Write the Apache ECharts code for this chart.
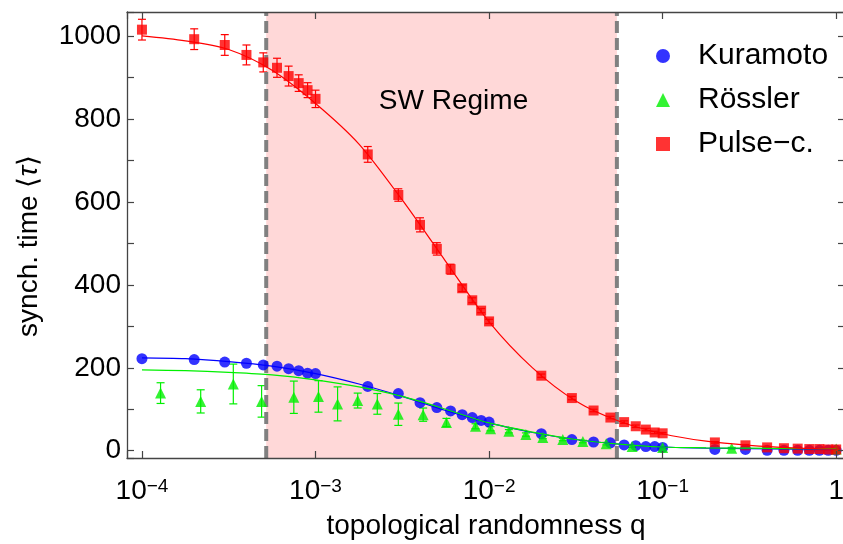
<!DOCTYPE html>
<html>
<head>
<meta charset="utf-8">
<script src="https://cdn.jsdelivr.net/npm/echarts@6/dist/echarts.min.js"></script>
<style>
html,body{margin:0;padding:0;background:#fff}
#chart{width:843px;height:544px}
</style>
</head>
<body>
<div id="chart"></div>
<script>
var FONT = "'Liberation Sans', Arial, sans-serif";

// q grid shared by Kuramoto and pulse-coupled runs
var gridQ = [1e-4,2e-4,3e-4,4e-4,5e-4,6e-4,7e-4,8e-4,9e-4,
             1e-3,2e-3,3e-3,4e-3,5e-3,6e-3,7e-3,8e-3,9e-3,
             1e-2,2e-2,3e-2,4e-2,5e-2,6e-2,7e-2,8e-2,9e-2,
             0.1,0.2,0.3,0.4,0.5,0.6,0.7,0.8,0.9,1];
var kuramotoT = [222,220,214,211,207,204,198,193,187,
                 186,155,138,116,104,96,87,80,73,
                 69,41,27,21,19,14,12,10,10,
                 8,3,3,1,1,1,1,1,1,1];
var pulseT = [1016,993,979,955,937,924,904,887,870,
              849,715,617,545,487,438,392,363,338,
              312,181,127,97,80,69,59,51,44,
              42,20,13,8,6,5,4,4,3,3];
var pulseErr = [25,25,25,24,23,23,24,20,18,
                21,19,15,17,15,12,8,6,5,
                5,4,4,3,3,3,3,3,3,
                2,2,2,2,2,2,2,2,2,2];

// Rössler runs sit on their own q values
var rosslerQ = [1.28e-4,2.18e-4,3.36e-4,4.89e-4,7.5e-4,1.04e-3,1.34e-3,1.75e-3,2.27e-3,3.0e-3,
                4.17e-3,5.68e-3,8.35e-3,1.02e-2,1.3e-2,1.63e-2,2.04e-2,2.66e-2,3.47e-2,4.73e-2,
                6.67e-2,0.1,0.25,1];
var rosslerT = [139,119,161,119,129,131,113,121,113,88,
                87,68,59,53,47,39,32,27,22,17,
                10,8,6,4];
var rosslerErr = [25,28,48,38,39,38,41,18,25,27,
                  16,10,6,5,4,4,3,3,3,3,
                  2,2,2,2];

// fitted curves (quarter-decade steps)
var fitQ = [1e-4,1.78e-4,3.16e-4,5.62e-4,1e-3,1.78e-3,3.16e-3,5.62e-3,
            1e-2,1.78e-2,3.16e-2,5.62e-2,0.1,0.178,0.316,0.562,1];
var kuramotoFit = [224,222,215,204,186,161,131,97,67,44,27,16,9,6,5,4,4];
var rosslerFit = [195,193,189,183,171,154,131,100,67,45,27,16,9,7,6,5,5];
var pulseFit = [1001,989,968,918,838,740,605,457,311,200,120,71,41,23,13,7,4];

// small-world regime borders
var swRegime = [5.2e-4, 5.45e-2];

var xMin = 8.2e-5, xMax = 1.124;
var yMin = -17.6, yMax = 1058.6;

function pairs(xs, ys) {
  return xs.map(function (x, i) { return [x, ys[i]]; });
}
function bars(xs, ys, es) {
  return xs.map(function (x, i) { return [x, ys[i] - es[i], ys[i] + es[i]]; });
}
function errorBars(color) {
  return function (params, api) {
    var x = api.value(0);
    var top = api.coord([x, api.value(2)]);
    var bot = api.coord([x, api.value(1)]);
    var w = 4;
    var st = { stroke: color, lineWidth: 1.2, fill: null };
    return {
      type: 'group',
      children: [
        { type: 'line', shape: { x1: top[0], y1: top[1], x2: bot[0], y2: bot[1] }, style: st },
        { type: 'line', shape: { x1: top[0] - w, y1: top[1], x2: top[0] + w, y2: top[1] }, style: st },
        { type: 'line', shape: { x1: bot[0] - w, y1: bot[1], x2: bot[0] + w, y2: bot[1] }, style: st }
      ]
    };
  };
}
function border(q) {
  return {
    type: 'line', z: 2, silent: true, showSymbol: false,
    lineStyle: { color: '#808080', width: 4, type: [12, 5] },
    data: [[q, yMin], [q, yMax]]
  };
}

var frameLine = { show: true, onZero: false, lineStyle: { color: '#444', width: 1.3 } };
var tickIn = { show: true, inside: true, length: 7, lineStyle: { color: '#444', width: 1.2 } };

var chart = echarts.init(document.getElementById('chart'));
var option = {
  animation: false,
  textStyle: { fontFamily: FONT },
  grid: { left: 127, top: 12, right: -2, bottom: 86, containLabel: false, outerBoundsMode: 'none' },
  legend: {
    orient: 'vertical',
    left: 651,
    top: 36,
    itemWidth: 14,
    itemHeight: 14,
    itemGap: 14,
    textStyle: { fontFamily: FONT, fontSize: 30, color: '#000', padding: [0, 0, 0, 23] },
    data: [
      { name: 'Kuramoto', icon: 'circle' },
      { name: 'Rössler', icon: 'triangle' },
      { name: 'Pulse\u2212c.', icon: 'rect' }
    ]
  },
  xAxis: [{
    type: 'log',
    min: xMin,
    max: xMax,
    z: 5,
    axisLine: frameLine,
    axisTick: tickIn,
    splitLine: { show: false },
    minorTick: { show: false },
    name: 'topological randomness q',
    nameLocation: 'middle',
    nameGap: 54,
    nameTextStyle: { fontFamily: FONT, fontSize: 28, color: '#000' },
    axisLabel: {
      margin: 19,
      color: '#000',
      formatter: function (v) {
        var e = Math.round(Math.log10(v));
        if (Math.abs(Math.log10(v) - e) > 1e-6) return '';
        if (e === 0) return '{b|1}';
        return '{b|10}{s|\u2212' + (-e) + '}';
      },
      rich: {
        b: { fontFamily: FONT, fontSize: 28, color: '#000' },
        s: { fontFamily: FONT, fontSize: 19, color: '#000', verticalAlign: 'top' }
      }
    }
  }, {
    type: 'log',
    position: 'top',
    min: xMin,
    max: xMax,
    z: 5,
    axisLine: frameLine,
    axisTick: tickIn,
    axisLabel: { show: false },
    splitLine: { show: false }
  }],
  yAxis: [{
    type: 'value',
    min: yMin,
    max: yMax,
    minInterval: 100,
    maxInterval: 100,
    z: 5,
    axisLine: frameLine,
    axisTick: tickIn,
    splitLine: { show: false },
    name: '{a|synch. time \u27e8}{t|\u03c4}{a|\u27e9}',
    nameLocation: 'middle',
    nameGap: 84,
    nameTextStyle: {
      padding: [0, 22, 0, 0],
      rich: {
        a: { fontFamily: FONT, fontSize: 28, color: '#000' },
        t: { fontFamily: FONT, fontSize: 28, color: '#000', fontStyle: 'italic' }
      }
    },
    axisLabel: {
      margin: 6,
      color: '#000',
      fontSize: 28,
      fontFamily: FONT,
      formatter: function (v) {
        var r = Math.round(v);
        if (Math.abs(v - r) > 1e-6 || r % 200 !== 0) return '';
        return String(r);
      }
    }
  }, {
    type: 'value',
    position: 'right',
    min: yMin,
    max: yMax,
    minInterval: 100,
    maxInterval: 100,
    z: 5,
    axisLine: frameLine,
    axisTick: tickIn,
    axisLabel: { show: false },
    splitLine: { show: false }
  }],
  series: [
    {
      name: 'sw',
      type: 'line',
      z: 1,
      data: [],
      silent: true,
      markArea: {
        silent: true,
        itemStyle: { color: '#ffd8d8' },
        label: {
          show: true,
          position: 'insideTop',
          offset: [12, 70],
          formatter: 'SW Regime',
          fontFamily: FONT,
          fontSize: 28,
          color: '#000'
        },
        data: [[{ xAxis: swRegime[0] }, { xAxis: swRegime[1] }]]
      }
    },
    border(swRegime[0]),
    border(swRegime[1]),
    {
      name: 'fitK', type: 'line', smooth: 0.3, showSymbol: false, silent: true,
      lineStyle: { color: '#0000ff', width: 1.2 }, data: pairs(fitQ, kuramotoFit)
    },
    {
      name: 'Kuramoto', type: 'scatter', symbol: 'circle', symbolSize: 11,
      itemStyle: { color: '#0000ff' }, data: pairs(gridQ, kuramotoT)
    },
    {
      name: 'fitR', type: 'line', smooth: 0.3, showSymbol: false, silent: true,
      lineStyle: { color: '#00f000', width: 1.2 }, data: pairs(fitQ, rosslerFit)
    },
    {
      name: 'errR', type: 'custom', renderItem: errorBars('#00f000'),
      encode: { x: 0, y: [1, 2] }, data: bars(rosslerQ, rosslerT, rosslerErr)
    },
    {
      name: 'Rössler', type: 'scatter', symbol: 'triangle', symbolSize: [11, 11],
      itemStyle: { color: '#00f000' }, data: pairs(rosslerQ, rosslerT)
    },
    {
      name: 'fitP', type: 'line', smooth: 0.3, showSymbol: false, silent: true,
      lineStyle: { color: '#ff0000', width: 1.2 }, data: pairs(fitQ, pulseFit)
    },
    {
      name: 'errP', type: 'custom', renderItem: errorBars('#ff0000'),
      encode: { x: 0, y: [1, 2] }, data: bars(gridQ, pulseT, pulseErr)
    },
    {
      name: 'Pulse\u2212c.', type: 'scatter', symbol: 'rect', symbolSize: 10,
      itemStyle: { color: '#ff0000' }, data: pairs(gridQ, pulseT)
    }
  ]
};
chart.setOption(option);
window.onresize = chart.resize;
</script>
</body>
</html>
